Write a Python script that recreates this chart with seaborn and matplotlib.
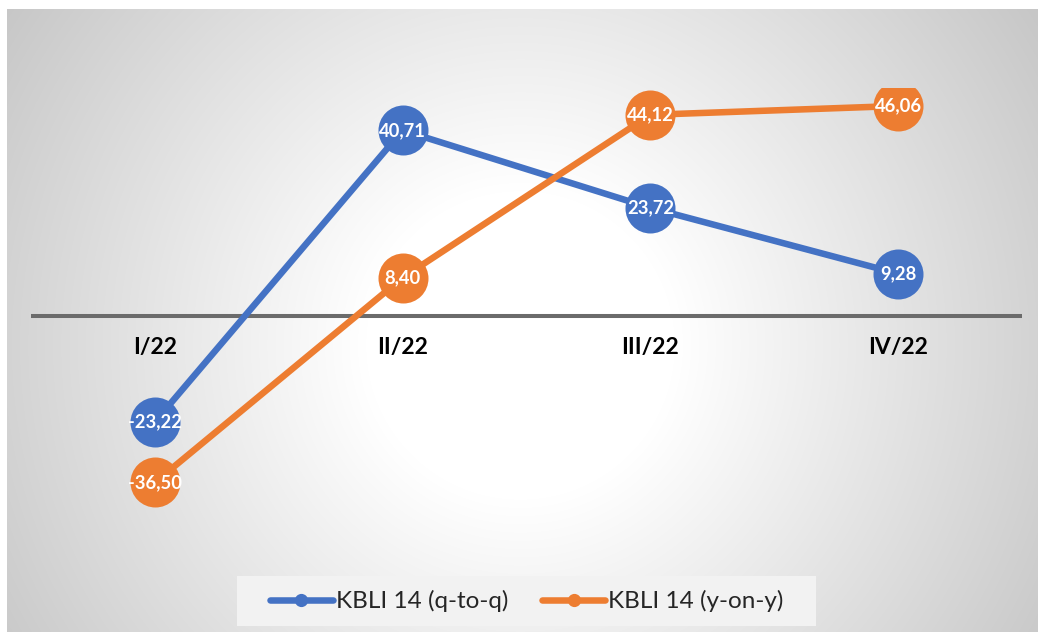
import numpy as np
import pandas as pd
import matplotlib
matplotlib.use("Agg")
import matplotlib.pyplot as plt
from matplotlib.patches import Rectangle
from matplotlib.lines import Line2D
import seaborn as sns

# ---- data ----
quarters = ["I/22", "II/22", "III/22", "IV/22"]
series_names = ["KBLI 14 (q-to-q)", "KBLI 14 (y-on-y)"]
qtoq = [-23.22, 40.71, 23.72, 9.28]
yony = [-36.50, 8.40, 44.12, 46.06]
colors = ["#4472C4", "#ED7D31"]

sns.set_style("white")
plt.rcParams["font.family"] = ["Lato", "DejaVu Sans"]

W, H = 1038, 632
fig = plt.figure(figsize=(W / 100, H / 100), dpi=100)
fig.patch.set_facecolor("white")

# ---- radial gradient background ----
bx0, by0 = 7, 9  # top-left of background (px)
bw, bh = W - bx0, H - by0
bgax = fig.add_axes([bx0 / W, 0, bw / W, bh / H], zorder=-5)
xx, yy = np.meshgrid(np.arange(bw) + bx0, np.arange(bh) + by0)
cx, cy = 520, 345
d = np.hypot(xx - cx, yy - cy)
d = d / d.max()
d0 = 0.25
val = np.where(d < d0, 1.0, 1.0 - 0.22 * (d - d0) / (1 - d0))
img = np.dstack([val, val, val])
bgax.imshow(img, aspect="auto", extent=(0, 1, 0, 1), origin="upper", interpolation="bilinear")
bgax.set_axis_off()

# ---- main axes ----
ax = fig.add_axes([31 / W, (H - 544) / H, (1022 - 31) / W, (544 - 88) / H], zorder=1)
ax.patch.set_alpha(0)

df = pd.DataFrame({
    "quarter": quarters * 2,
    "x": list(range(len(quarters))) * 2,
    "value": qtoq + yony,
    "series": [series_names[0]] * 4 + [series_names[1]] * 4,
})

ax.axhline(0, color="#6b6b6b", lw=2.9, zorder=1)

sns.lineplot(data=df, x="x", y="value", hue="series", palette=colors,
             marker="o", markersize=36, markeredgewidth=0, linewidth=4.7,
             legend=False, ax=ax, zorder=3)

for vals in (qtoq, yony):
    for i, v in enumerate(vals):
        ax.text(i, v, f"{v:.2f}".replace(".", ","), ha="center", va="center",
                color="white", fontsize=13.2, fontweight="bold", zorder=6)

for i, q in enumerate(quarters):
    ax.annotate(q, xy=(i, 0), xytext=(0, -23), textcoords="offset points",
                ha="center", va="center", fontsize=16.5, fontweight="bold",
                color="black", zorder=5)

ax.set_xlim(-0.5, 3.5)
ax.set_ylim(-50, 50)
ax.set_xticks([])
ax.set_yticks([])
ax.set_xlabel("")
ax.set_ylabel("")
for s in ax.spines.values():
    s.set_visible(False)

# ---- legend ----
rect = Rectangle((237 / W, (H - 626) / H), (816 - 237) / W, 50 / H,
                 transform=fig.transFigure, facecolor="#f2f2f2",
                 edgecolor="none", zorder=1)
fig.patches.append(rect)
handles = [Line2D([0], [0], color=c, lw=4.7, marker="o", markersize=9.5,
                  markeredgewidth=0) for c in colors]
fig.legend(handles, series_names, loc="center",
           bbox_to_anchor=(526.5 / W, (H - 601) / H), ncol=2, frameon=False,
           fontsize=17.5, handlelength=2.6, handletextpad=0.12,
           columnspacing=1.4)

fig.savefig("out.png", dpi=100)
